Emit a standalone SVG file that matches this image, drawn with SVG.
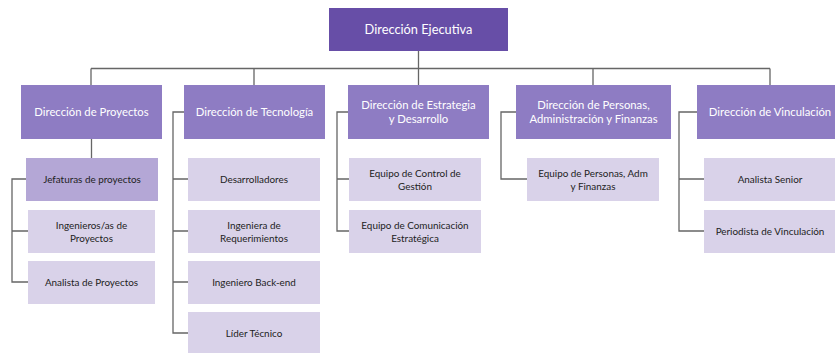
<svg xmlns="http://www.w3.org/2000/svg" width="835" height="353" viewBox="0 0 835 353">
<style>
text{font-family:Lato,"Open Sans","Liberation Sans",sans-serif;text-anchor:middle;dominant-baseline:central}
.top{fill:#674ea7}
.l2{fill:#8e7cc3}
.l3{fill:#d9d2e9}
.l3d{fill:#b4a7d6}
.tw{fill:#ffffff;font-size:12.8px}
.t2{fill:#ffffff;font-size:11.3px}
.t3{fill:#222222;font-size:9.9px}
.c{fill:none;stroke:#666666;stroke-width:1.3}
</style>
<rect width="835" height="353" fill="#ffffff"/>
<g id="connectors">
<path class="c" d="M418.5 51V68.5M91 68.5H770M91 68.5V85M254 68.5V85M418.5 68.5V85M593 68.5V85M770 68.5V85"/>
<path class="c" d="M91.5 139V158M26 179H12V282H28M12 231H28"/>
<path class="c" d="M184 112H173V333H188M173 179H188M173 231H188M173 282H188"/>
<path class="c" d="M348 112H337V231H349M337 179H349"/>
<path class="c" d="M516 112H501V179H527"/>
<path class="c" d="M697 112H679V231H704M679 179H704"/>
</g>
<g id="ejecutiva"><rect class="top" x="329" y="8" width="179" height="43"/><text class="tw" x="418.5" y="29">Dirección Ejecutiva</text></g>
<g id="proyectos"><rect class="l2" x="21" y="85" width="141" height="54"/><text class="t2" x="91.5" y="111.5">Dirección de Proyectos</text></g>
<g id="tecnologia"><rect class="l2" x="184" y="85" width="141" height="54"/><text class="t2" x="254.5" y="111.5">Dirección de Tecnología</text></g>
<g id="estrategia"><rect class="l2" x="348" y="85" width="141" height="54"/><text class="t2" x="418.5" y="104.5">Dirección de Estrategia</text><text class="t2" x="418.5" y="118">y Desarrollo</text></g>
<g id="personas"><rect class="l2" x="516" y="85" width="155" height="54"/><text class="t2" x="593.5" y="104.5">Dirección de Personas,</text><text class="t2" x="593.5" y="118">Administración y Finanzas</text></g>
<g id="vinculacion"><rect class="l2" x="697" y="85" width="146" height="54"/><text class="t2" x="770" y="111.5">Dirección de Vinculación</text></g>
<g id="jefaturas"><rect class="l3d" x="26" y="158" width="132" height="43"/><text class="t3" x="92" y="178.8">Jefaturas de proyectos</text></g>
<g id="ingenieros"><rect class="l3" x="28" y="210" width="127" height="43"/><text class="t3" x="91.5" y="225.3">Ingenieros/as de</text><text class="t3" x="91.5" y="237.6">Proyectos</text></g>
<g id="analista-proyectos"><rect class="l3" x="28" y="261" width="127" height="43"/><text class="t3" x="91.5" y="281.8">Analista de Proyectos</text></g>
<g id="desarrolladores"><rect class="l3" x="188" y="158" width="132" height="43"/><text class="t3" x="254" y="178.8">Desarrolladores</text></g>
<g id="ingeniera-req"><rect class="l3" x="188" y="210" width="132" height="43"/><text class="t3" x="254" y="225.3">Ingeniera de</text><text class="t3" x="254" y="237.6">Requerimientos</text></g>
<g id="backend"><rect class="l3" x="188" y="261" width="132" height="43"/><text class="t3" x="254" y="281.8">Ingeniero Back-end</text></g>
<g id="lider"><rect class="l3" x="188" y="312" width="132" height="41"/><text class="t3" x="254" y="332.5">Líder Técnico</text></g>
<g id="control-gestion"><rect class="l3" x="349" y="158" width="132" height="43"/><text class="t3" x="415" y="173.3">Equipo de Control de</text><text class="t3" x="415" y="185.6">Gestión</text></g>
<g id="comunicacion"><rect class="l3" x="349" y="210" width="132" height="43"/><text class="t3" x="415" y="225.3">Equipo de Comunicación</text><text class="t3" x="415" y="237.6">Estratégica</text></g>
<g id="equipo-personas"><rect class="l3" x="527" y="158" width="132" height="43"/><text class="t3" x="593" y="173.3">Equipo de Personas, Adm</text><text class="t3" x="593" y="185.6">y Finanzas</text></g>
<g id="analista-senior"><rect class="l3" x="704" y="158" width="132" height="43"/><text class="t3" x="770" y="178.8">Analista Senior</text></g>
<g id="periodista"><rect class="l3" x="704" y="210" width="132" height="43"/><text class="t3" x="770" y="230.8">Periodista de Vinculación</text></g>
</svg>
